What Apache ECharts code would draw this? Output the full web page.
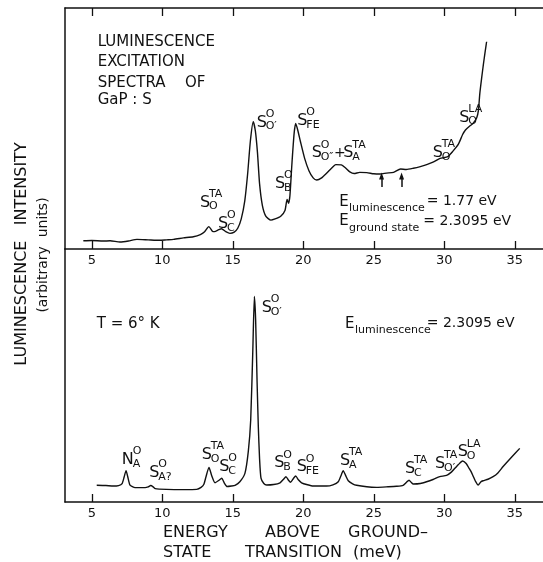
<!DOCTYPE html>
<html>
<head>
<meta charset="utf-8">
<script src="https://cdn.jsdelivr.net/npm/echarts@6/dist/echarts.min.js"></script>
<style>
  html, body { margin: 0; padding: 0; background: #fff; }
  #chart { width: 543px; height: 562px; }
</style>
</head>
<body>
<div id="chart"></div>
<script>
// energy above ground-state transition (meV)
const energyTicks = [5, 10, 15, 20, 25, 30, 35]

// upper trace: E_lum = 1.77 eV
const topEnergy = [4.4, 5.0, 5.8, 6.3, 7.0, 7.6, 8.2, 9.0, 9.8, 10.3, 10.8, 11.5, 12.2, 12.7, 13.0, 13.3, 13.55, 13.7, 14.0, 14.2, 14.5, 14.8, 15.1, 15.35, 15.6, 15.85, 16.05, 16.25, 16.45, 16.6, 16.75, 16.9, 17.1, 17.35, 17.7, 18.0, 18.4, 18.7, 18.85, 18.95, 19.05, 19.2, 19.35, 19.46, 19.6, 19.8, 20.1, 20.4, 20.7, 20.95, 21.3, 21.65, 22.0, 22.3, 22.7, 23.0, 23.3, 23.6, 24.0, 24.5, 25.0, 25.45, 25.9, 26.4, 26.9, 27.3, 27.8, 28.3, 28.75, 29.2, 29.7, 30.25, 30.6, 31.0, 31.3, 31.5, 31.8, 32.05, 32.3, 32.42, 32.52, 32.65, 32.77, 32.9, 33.0]
const topIntensity = [3.4, 3.5, 3.3, 3.4, 2.9, 3.3, 4.0, 3.8, 3.6, 3.8, 4.0, 4.6, 5.1, 6.0, 7.2, 9.3, 7.4, 7.2, 8.0, 8.4, 7.2, 6.5, 7.0, 8.6, 12.5, 20, 31, 45, 52.8, 49, 40, 27, 18, 13.5, 12, 12.5, 13.6, 16, 20.6, 19.0, 22, 36, 48, 52.1, 49.5, 44.5, 37.5, 32.5, 29.5, 28.6, 29.5, 31.4, 33.5, 35.0, 34.9, 33.6, 32.0, 31.3, 31.8, 31.7, 31.2, 31.1, 31.5, 31.8, 33.2, 33.0, 33.5, 34.2, 35.0, 36.0, 37.6, 38.3, 40.5, 43.5, 47.5, 49.4, 51.0, 52.2, 54.5, 57.5, 64.6, 71, 76.5, 82, 86.0]

// lower trace: E_lum = 2.3095 eV, T = 6 K
const bottomEnergy = [5.35, 6.0, 6.53, 6.9, 7.15, 7.3, 7.43, 7.55, 7.71, 8.07, 8.78, 9.0, 9.18, 9.35, 9.5, 10.3, 11.5, 12.44, 12.75, 12.95, 13.1, 13.31, 13.5, 13.74, 14.0, 14.21, 14.4, 14.6, 14.9, 15.16, 15.5, 15.86, 16.1, 16.27, 16.42, 16.53, 16.62, 16.72, 16.81, 16.9, 17.0, 17.2, 17.4, 17.9, 18.35, 18.6, 18.77, 18.95, 19.1, 19.3, 19.46, 19.65, 19.88, 20.3, 20.7, 21.65, 22.1, 22.48, 22.7, 22.83, 23.0, 23.19, 23.5, 23.78, 24.5, 25.2, 26.0, 26.6, 27.08, 27.35, 27.5, 27.65, 27.8, 28.3, 28.74, 29.2, 29.68, 30.16, 30.5, 30.75, 31.0, 31.29, 31.55, 31.76, 31.9, 32.04, 32.2, 32.4, 32.6, 32.75, 33.1, 33.46, 33.8, 34.17, 34.7, 35.35]
const bottomIntensity = [6.6, 6.5, 6.3, 6.5, 7.3, 10, 12.4, 10, 6.7, 5.7, 5.7, 6.0, 6.5, 6.0, 5.3, 5.0, 4.9, 5.0, 5.8, 7.0, 10, 13.7, 10.5, 7.6, 8.5, 9.4, 7.5, 6.1, 6.3, 6.6, 8.0, 11.3, 20, 32.4, 60, 81.2, 72, 48, 29.8, 17, 9.4, 7.3, 6.7, 6.9, 7.6, 9.0, 10.0, 8.6, 7.8, 9.3, 10.3, 8.8, 7.6, 6.8, 6.3, 6.3, 6.8, 8.0, 10.8, 12.4, 10.5, 8.4, 7.2, 6.6, 6.0, 5.8, 6.0, 6.2, 6.6, 8.0, 8.6, 7.8, 7.1, 7.3, 8.0, 8.9, 10.0, 10.5, 11.8, 13.3, 14.8, 16.2, 15.2, 13.3, 12.0, 10.3, 8.3, 6.7, 8.0, 8.4, 9.0, 10.0, 11.5, 14.0, 17.3, 21.2]

// little up-arrows under the upper trace
const arrowEnergy = [25.55, 26.97]
const arrowSpan = [25.7, 30.3]

const ink = '#111'
const face = 'DejaVu Sans'

const chart = echarts.init(document.getElementById('chart'))

function pairs (xs, ys) {
  return xs.map((x, i) => [x, ys[i]])
}

function txt (x, y, text, size, align, rotation) {
  return {
    type: 'text',
    x: x,
    y: y,
    rotation: rotation || 0,
    silent: true,
    style: {
      text: text,
      font: size + 'px "' + face + '"',
      fill: ink,
      textAlign: align || 'left',
      textVerticalAlign: 'middle'
    }
  }
}

// S with superscript and subscript stacked after it
function peakLabel (x, cy, main, sup, sub) {
  const w = main === 'N' ? 11 : 9
  return [
    txt(x, cy, main, 16),
    txt(x + w, cy - 8.5, sup, 11),
    txt(x + w, cy + 4, sub, 11)
  ]
}

const labels = [].concat(
  // upper panel
  peakLabel(200, 202.5, 'S', 'TA', 'O'),
  peakLabel(218, 224, 'S', 'O', 'C'),
  peakLabel(256.7, 122.5, 'S', 'O', 'O\u2032'),
  peakLabel(297.3, 120.8, 'S', 'O', 'FE'),
  peakLabel(275, 184, 'S', 'O', 'B'),
  peakLabel(311.7, 153.3, 'S', 'O', 'O\u2033'),
  [txt(334, 153.3, '+', 14)],
  peakLabel(343.3, 153.3, 'S', 'TA', 'A'),
  peakLabel(432.7, 153, 'S', 'TA', 'O\u2032'),
  peakLabel(459.3, 117.5, 'S', 'LA', 'O'),
  // lower panel
  peakLabel(261.7, 307.7, 'S', 'O', 'O\u2032'),
  peakLabel(121.7, 459.7, 'N', 'O', 'A'),
  peakLabel(149.3, 472.7, 'S', 'O', 'A?'),
  peakLabel(201.7, 454.7, 'S', 'TA', 'O'),
  peakLabel(219.3, 467, 'S', 'O', 'C'),
  peakLabel(274.3, 463.3, 'S', 'O', 'B'),
  peakLabel(296.7, 467.3, 'S', 'O', 'FE'),
  peakLabel(340, 460.7, 'S', 'TA', 'A'),
  peakLabel(405, 469, 'S', 'TA', 'C'),
  peakLabel(435, 463.7, 'S', 'TA', 'O\u2032'),
  peakLabel(457.7, 452.3, 'S', 'LA', 'O')
)

const notes = [
  txt(97.7, 41.7, 'LUMINESCENCE', 15),
  txt(97.7, 61.7, 'EXCITATION', 15),
  txt(97.7, 83, 'SPECTRA', 15),
  txt(185, 83, 'OF', 15),
  txt(97.7, 100, 'GaP : S', 15),

  txt(339.3, 201.7, 'E', 15),
  txt(349, 208, 'luminescence', 11),
  txt(426.7, 201.7, '= 1.77 eV', 14),
  txt(339.3, 221.3, 'E', 15),
  txt(349, 228, 'ground state', 11),
  txt(423.3, 221.3, '= 2.3095 eV', 14),

  txt(96.7, 323.8, 'T = 6\u00b0 K', 15),
  txt(345, 323.8, 'E', 15),
  txt(355, 330, 'luminescence', 11),
  txt(426.7, 323.8, '= 2.3095 eV', 14),

  // axis titles
  txt(22, 254, 'LUMINESCENCE   INTENSITY', 16, 'center', Math.PI / 2),
  txt(43, 255, '(arbitrary  units)', 14, 'center', Math.PI / 2),
  txt(163, 533, 'ENERGY', 16),
  txt(265, 533, 'ABOVE', 16),
  txt(348, 533, 'GROUND\u2013', 16),
  txt(163, 553, 'STATE', 16),
  txt(245, 553, 'TRANSITION', 16),
  txt(353, 553, '(meV)', 16)
]

function energyAxis (grid, position, showLabels) {
  return {
    type: 'value',
    gridIndex: grid,
    position: position,
    min: 3.1,
    max: 37,
    axisLine: { show: true, onZero: false, lineStyle: { color: ink, width: 1.5 } },
    axisTick: { show: true, inside: true, length: 8, customValues: energyTicks, lineStyle: { color: ink, width: 1.3 } },
    axisLabel: { show: showLabels, customValues: energyTicks, color: ink, fontSize: 13, fontFamily: face, margin: 5 },
    splitLine: { show: false }
  }
}

function intensityAxis (grid) {
  return {
    type: 'value',
    gridIndex: grid,
    min: 0,
    max: 100,
    axisLine: { show: true, onZero: false, lineStyle: { color: ink, width: 1.5 } },
    axisTick: { show: false },
    axisLabel: { show: false },
    splitLine: { show: false }
  }
}

chart.setOption({
  animation: false,
  backgroundColor: '#fff',
  grid: [
    { left: 65, top: 8, width: 478, height: 241 },
    { left: 65, top: 249, width: 478, height: 253 }
  ],
  xAxis: [
    energyAxis(0, 'bottom', true),
    energyAxis(1, 'bottom', true),
    energyAxis(0, 'top', false)
  ],
  yAxis: [intensityAxis(0), intensityAxis(1)],
  series: [
    {
      type: 'line',
      xAxisIndex: 0,
      yAxisIndex: 0,
      data: pairs(topEnergy, topIntensity),
      showSymbol: false,
      smooth: 0.2,
      lineStyle: { color: ink, width: 1.4 },
      markLine: {
        silent: true,
        symbol: ['none', 'triangle'],
        symbolSize: [5, 7],
        label: { show: false },
        lineStyle: { color: ink, width: 1.5, type: 'solid' },
        data: arrowEnergy.map(e => [{ coord: [e, arrowSpan[0]] }, { coord: [e, arrowSpan[1]] }])
      }
    },
    {
      type: 'line',
      xAxisIndex: 1,
      yAxisIndex: 1,
      data: pairs(bottomEnergy, bottomIntensity),
      showSymbol: false,
      smooth: 0.2,
      lineStyle: { color: ink, width: 1.4 }
    }
  ],
  graphic: labels.concat(notes)
})
</script>
</body>
</html>
